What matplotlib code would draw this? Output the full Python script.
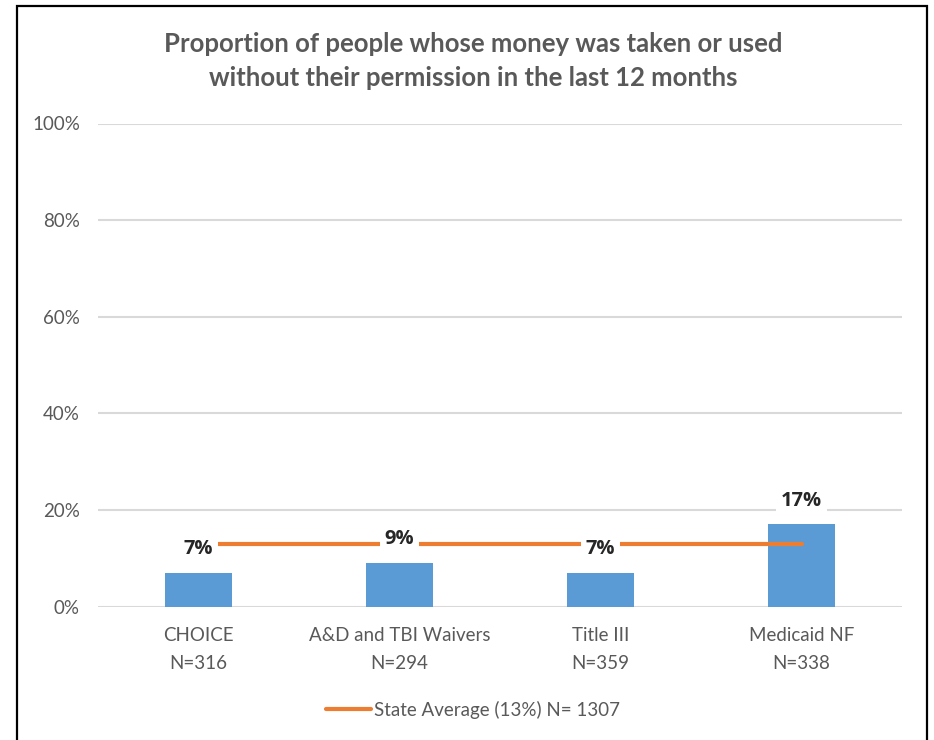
import matplotlib
matplotlib.use("Agg")
import matplotlib.pyplot as plt
from matplotlib.lines import Line2D
from matplotlib.patches import Rectangle

# Survey results by program
programs = ["CHOICE", "A&D and TBI Waivers", "Title III", "Medicaid NF"]
sample_sizes = [316, 294, 359, 338]
percent_yes = [7, 9, 7, 17]
state_avg = 13
state_n = 1307

font = "Lato"
grey = "#595959"
bar_color = "#5B9BD5"
line_color = "#ED7D31"

fig = plt.figure(figsize=(9.34, 7.4), dpi=100)
ax = fig.add_axes([98 / 934, 1 - 606.5 / 740, 804 / 934, 483 / 740])

x = list(range(len(programs)))
ax.bar(x, percent_yes, width=0.33, color=bar_color, zorder=2)
ax.plot(x, [state_avg] * len(x), color=line_color, lw=3, solid_capstyle="round", zorder=3)

# value labels sit above each bar, masking the line and grid behind them
for xi, v in zip(x, percent_yes):
    ax.annotate(f"{v}%", (xi, v), xytext=(0, 17), textcoords="offset points",
                ha="center", va="center", fontsize=14.5, fontweight="bold",
                family="Open Sans", color="#262626", zorder=5,
                bbox=dict(boxstyle="square,pad=0.25", fc="white", ec="none"))

ax.set_xlim(-0.5, 3.5)
ax.set_ylim(0, 100)
ax.set_yticks(range(0, 101, 20))
ax.set_yticklabels([f"{t}%" for t in range(0, 101, 20)])
ax.set_xticks(x)
ax.set_xticklabels([f"{p}\nN={n}" for p, n in zip(programs, sample_sizes)], linespacing=1.75)
ax.tick_params(axis="both", length=0, labelcolor=grey, labelsize=13.5)
ax.tick_params(axis="y", pad=13)
ax.tick_params(axis="x", pad=15)
for lab in ax.get_xticklabels() + ax.get_yticklabels():
    lab.set_family(font)

ax.grid(axis="y", color="#D9D9D9", lw=1.5, zorder=0)
for s in ax.spines.values():
    s.set_visible(False)

fig.text(473 / 934, 1 - 60.5 / 740,
         "Proportion of people whose money was taken or used\nwithout their permission in the last 12 months",
         ha="center", va="center", fontsize=18.5, fontweight="bold", color=grey,
         family=font, linespacing=1.5)

handle = Line2D([], [], color=line_color, lw=3, solid_capstyle="round")
leg = fig.legend([handle], [f"State Average ({state_avg}%) N= {state_n}"],
                 loc="center left", bbox_to_anchor=(326 / 934, 1 - 710 / 740),
                 frameon=False, borderpad=0, borderaxespad=0,
                 handlelength=2.4, handletextpad=0.15,
                 prop=dict(family=font, size=13.5))
for t in leg.get_texts():
    t.set_color(grey)

# outer frame
fig.patches.append(Rectangle((17 / 934, -0.05), 910 / 934, 1.05 - 6 / 740,
                             transform=fig.transFigure, fill=False,
                             ec="black", lw=1.6))

fig.savefig("out.png", dpi=100)
